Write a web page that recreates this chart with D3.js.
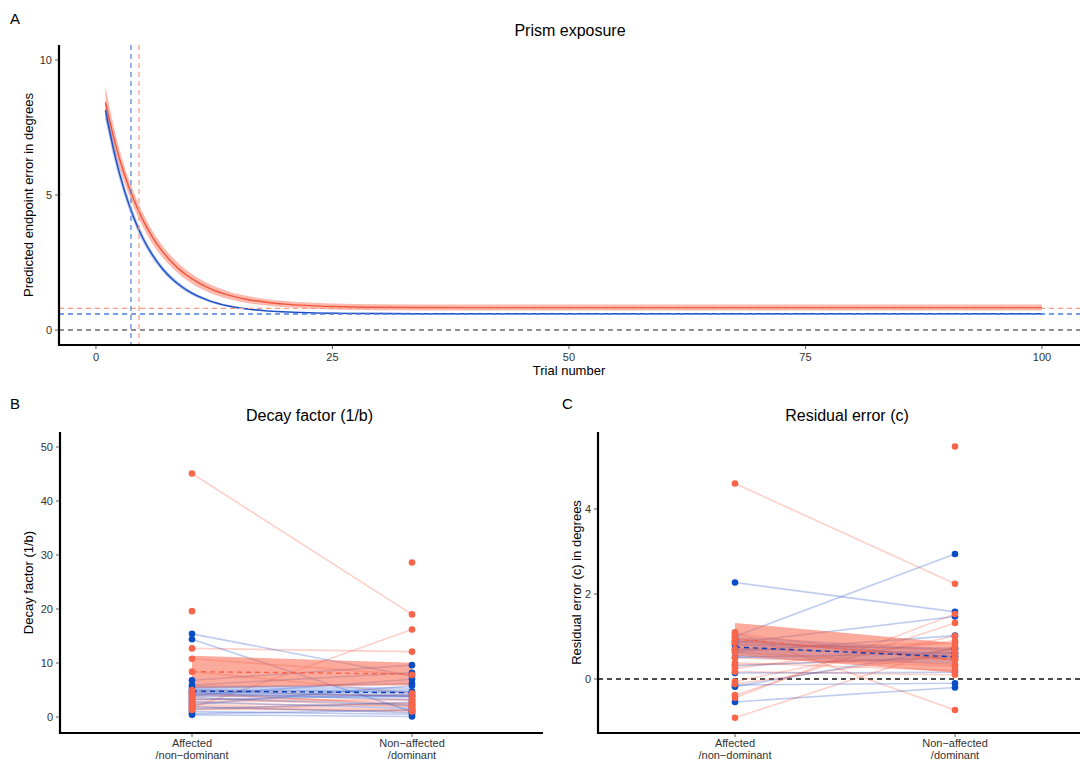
<!DOCTYPE html>
<html><head><meta charset="utf-8">
<script src="https://cdn.jsdelivr.net/npm/d3@7"></script>
<style>body{margin:0;background:#fff} text{font-family:"Liberation Sans",Arial,sans-serif}</style>
</head><body><svg id="c" width="1080" height="763"></svg>
<script>
// ---------- Panel A data ----------
const trials   = [1,2,3,4,5,6,7,8,9,10,12,14,16,18,20,25,30,40,50,60,70,80,90,100];
const redFit   = [8.43,6.96,5.77,4.82,4.05,3.42,2.92,2.52,2.19,1.93,1.54,1.29,1.13,1.03,0.96,0.87,0.84,0.83,0.83,0.83,0.83,0.83,0.83,0.83];
const redLo    = [7.83,6.56,5.47,4.54,3.79,3.18,2.70,2.32,2.00,1.75,1.38,1.15,1.00,0.91,0.85,0.76,0.73,0.72,0.72,0.72,0.72,0.72,0.72,0.72];
const redHi    = [9.03,7.36,6.07,5.10,4.31,3.66,3.14,2.72,2.38,2.11,1.70,1.43,1.26,1.15,1.07,0.98,0.95,0.94,0.94,0.94,0.94,0.94,0.94,0.94];
const blueFit  = [8.14,6.47,5.17,4.16,3.37,2.76,2.28,1.91,1.62,1.39,1.08,0.89,0.78,0.71,0.67,0.62,0.61,0.60,0.60,0.60,0.60,0.60,0.60,0.60];
const blueLo   = [7.79,6.20,4.96,3.99,3.23,2.64,2.18,1.82,1.54,1.32,1.03,0.85,0.75,0.68,0.64,0.59,0.58,0.57,0.57,0.57,0.57,0.57,0.57,0.57];
const blueHi   = [8.49,6.74,5.38,4.33,3.51,2.88,2.38,2.00,1.70,1.46,1.13,0.93,0.81,0.74,0.70,0.65,0.64,0.63,0.63,0.63,0.63,0.63,0.63,0.63];
const redDecayMean = 4.55, blueDecayMean = 3.7;
const redAsym = 0.80, blueAsym = 0.59;
const xTicksA = [0,25,50,75,100];
const yTicksA = [0,5,10];

// ---------- Panel B data (Decay factor) ----------
const groups = ["Affected\n/non\u2212dominant","Non\u2212affected\n/dominant"];
const decayRedAff  = [45.1,19.6,12.7,10.8,8.4,5.0,4.6,4.2,3.9,3.5,3.2,2.8,2.5,2.2,1.9,1.7,1.5,1.3,null];
const decayRedNon  = [19.0,null,12.1,7.8,4.4,3.8,2.1,2.4,4.1,1.9,3.3,3.1,2.0,1.4,1.0,16.2,1.2,2.6,28.6];
const decayBlueAff = [15.4,14.4,6.8,5.9,5.4,5.0,4.7,4.4,4.0,3.6,3.2,2.8,2.3,1.9,1.5,1.0,0.6,0.4];
const decayBlueNon = [7.6,1.0,9.6,8.2,6.2,4.7,3.8,3.2,7.0,2.2,4.0,1.6,5.8,0.8,2.7,0.5,1.3,0.1];
const decayRedMean = [8.4,7.96], decayRedLo = [5.4,5.9], decayRedHi = [11.35,10.05];
const decayBlueMean = [4.8,4.5], decayBlueLo = [3.7,3.5], decayBlueHi = [5.9,5.5];
const yTicksB = [0,10,20,30,40,50];

// ---------- Panel C data (Residual error) ----------
const residRedAff  = [4.6,1.1,-0.91,1.06,0.85,0.7,0.63,0.38,0.33,0.17,-0.06,-0.12,-0.38,-0.44,0.95,0.5,0.25,null];
const residRedNon  = [2.24,-0.73,0.77,0.45,0.68,0.85,0.33,0.2,0.5,0.1,1.01,0.6,1.32,1.53,0.45,0.3,0.9,5.47];
const residBlueAff = [2.27,1.0,0.85,0.8,0.64,0.51,0.31,0.14,-0.14,-0.18,-0.54,0.9,0.7];
const residBlueNon = [1.58,2.94,1.47,0.72,1.02,0.61,0.53,0.16,-0.1,0.72,-0.2,0.53,0.61];
const residRedMean = [0.94,0.45], residRedLo = [0.55,0.15], residRedHi = [1.32,0.85];
const residBlueMean = [0.75,0.52], residBlueLo = [0.5,0.35], residBlueHi = [1.0,0.7];
const yTicksC = [0,2,4];

// ---------- styles ----------
const RED = "#f8654b", BLUE = "#0a4bc6";
const RED_DASH = "#f79a86", BLUE_DASH = "#4a80e0";
const svg = d3.select("#c");

function axisLines(g, x0, x1, y0, y1){
  g.append("line").attr("x1",x0).attr("x2",x0).attr("y1",y0).attr("y2",y1+1).attr("stroke","#000").attr("stroke-width",2.2);
  g.append("line").attr("x1",x0-1).attr("x2",x1).attr("y1",y1).attr("y2",y1).attr("stroke","#000").attr("stroke-width",2.2);
}
function yAxisTicks(g, y, ticks, x0){
  ticks.forEach(t=>{
    g.append("line").attr("x1",x0-3).attr("x2",x0).attr("y1",y(t)).attr("y2",y(t)).attr("stroke","#333").attr("stroke-width",0.8);
    g.append("text").attr("x",x0-6).attr("y",y(t)).attr("dy","0.35em").attr("text-anchor","end")
      .attr("font-size",11).attr("fill","#333").text(t);
  });
}
function label(txt,x,y){ svg.append("text").attr("x",x).attr("y",y).attr("font-size",15).attr("fill","#000").text(txt); }

// ---------- Panel A ----------
(function(){
  const g = svg.append("g");
  const x = d3.scaleLinear().domain([-3.95,104.95]).range([58.6,1088.8]);
  const y = d3.scaleLinear().domain([0,10]).range([330,60]);
  const L = 59, R = 1080, T = 45, B = 345;
  label("A",10,24);
  g.append("text").attr("x",570).attr("y",36).attr("text-anchor","middle").attr("font-size",16).text("Prism exposure");
  g.append("text").attr("x",569).attr("y",375).attr("text-anchor","middle").attr("font-size",13).text("Trial number");
  g.append("text").attr("transform",`translate(33,195) rotate(-90)`).attr("text-anchor","middle").attr("font-size",13).text("Predicted endpoint error in degrees");
  const idx = d3.range(trials.length);
  const area = (lo,hi)=>d3.area().curve(d3.curveMonotoneX).x(i=>x(trials[i])).y0(i=>y(lo[i])).y1(i=>y(hi[i]));
  const line = (v)=>d3.line().curve(d3.curveMonotoneX).x(i=>x(trials[i])).y(i=>y(v[i]));
  g.append("path").attr("d",area(redLo,redHi)(idx)).attr("fill",RED).attr("opacity",0.45);
  g.append("path").attr("d",area(blueLo,blueHi)(idx)).attr("fill","#3a5fcc").attr("opacity",0.35);
  g.append("path").attr("d",line(redFit)(idx)).attr("fill","none").attr("stroke","#f2553a").attr("stroke-width",1.4);
  g.append("path").attr("d",line(blueFit)(idx)).attr("fill","none").attr("stroke","#1a4fc8").attr("stroke-width",1.4);
  // reference lines
  g.append("line").attr("x1",L).attr("x2",R).attr("y1",y(0)).attr("y2",y(0)).attr("stroke","#222").attr("stroke-width",1.2).attr("stroke-dasharray","5,4");
  g.append("line").attr("x1",L).attr("x2",R).attr("y1",y(redAsym)).attr("y2",y(redAsym)).attr("stroke",RED_DASH).attr("stroke-width",1.4).attr("stroke-dasharray","5,4");
  g.append("line").attr("x1",L).attr("x2",R).attr("y1",y(blueAsym)).attr("y2",y(blueAsym)).attr("stroke",BLUE_DASH).attr("stroke-width",1.4).attr("stroke-dasharray","5,4");
  g.append("line").attr("x1",x(blueDecayMean)).attr("x2",x(blueDecayMean)).attr("y1",T).attr("y2",B).attr("stroke",BLUE_DASH).attr("stroke-width",1.2).attr("stroke-dasharray","5,4");
  g.append("line").attr("x1",x(redDecayMean)).attr("x2",x(redDecayMean)).attr("y1",T).attr("y2",B).attr("stroke",RED_DASH).attr("stroke-width",1.2).attr("stroke-dasharray","5,4");
  axisLines(g,L,R,T,B);
  yAxisTicks(g,y,yTicksA,L-1);
  xTicksA.forEach(t=>{
    g.append("line").attr("x1",x(t)).attr("x2",x(t)).attr("y1",B+1).attr("y2",B+4).attr("stroke","#333").attr("stroke-width",0.8);
    g.append("text").attr("x",x(t)).attr("y",B+16).attr("text-anchor","middle").attr("font-size",11).attr("fill","#333").text(t);
  });
})();

// ---------- Paired panels ----------
function pairedPanel(opt){
  const g = svg.append("g");
  const {L,R,T,B} = opt;
  const x = d3.scalePoint().domain(groups).range([opt.cx[0],opt.cx[1]]);
  const y = d3.scaleLinear().domain(opt.yDom).range(opt.yRange);
  label(opt.letter,opt.lx,409);
  g.append("text").attr("x",(L+R)/2+8).attr("y",421).attr("text-anchor","middle").attr("font-size",16).text(opt.title);
  g.append("text").attr("transform",`translate(${opt.ylx},${(T+B)/2}) rotate(-90)`).attr("text-anchor","middle").attr("font-size",13).text(opt.ylab);
  if(opt.zero){
    g.append("line").attr("x1",L).attr("x2",R).attr("y1",y(0)).attr("y2",y(0)).attr("stroke","#111").attr("stroke-width",1.3).attr("stroke-dasharray","5,4");
  }
  const pairs = (a,b)=>a.map((v,i)=>[v,b[i]]);
  const drawLines=(a,b,col)=>{
    pairs(a,b).filter(p=>p[0]!=null&&p[1]!=null).forEach(p=>{
      g.append("line").attr("x1",x(groups[0])).attr("x2",x(groups[1])).attr("y1",y(p[0])).attr("y2",y(p[1]))
        .attr("stroke",col).attr("stroke-width",1.6).attr("stroke-opacity",0.3);
    });
  };
  drawLines(opt.redAff,opt.redNon,RED);
  drawLines(opt.blueAff,opt.blueNon,"#2a55c8");
  const band=(lo,hi,col,op)=>{
    const a = d3.area().x((d,i)=>x(groups[i])).y0((d,i)=>y(lo[i])).y1((d,i)=>y(hi[i]));
    g.append("path").attr("d",a([0,1])).attr("fill",col).attr("opacity",op);
  };
  band(opt.blueLo,opt.blueHi,"#3a6ad8",0.3);
  band(opt.redLo,opt.redHi,RED,0.55);
  const mean=(m,col)=>{
    g.append("line").attr("x1",x(groups[0])).attr("x2",x(groups[1])).attr("y1",y(m[0])).attr("y2",y(m[1]))
      .attr("stroke",col).attr("stroke-width",1.4).attr("stroke-dasharray","5,4");
  };
  mean(opt.redMean,RED);
  mean(opt.blueMean,"#0a3fb8");
  const pts=(arr,gi,col)=>arr.forEach(v=>{ if(v!=null) g.append("circle").attr("cx",x(groups[gi])).attr("cy",y(v)).attr("r",3.3).attr("fill",col); });
  pts(opt.blueAff,0,BLUE); pts(opt.blueNon,1,BLUE);
  pts(opt.redAff,0,RED); pts(opt.redNon,1,RED);
  axisLines(g,L,R,T,B);
  yAxisTicks(g,y,opt.yTicks,L-1);
  groups.forEach(gr=>{
    g.append("line").attr("x1",x(gr)).attr("x2",x(gr)).attr("y1",B+1).attr("y2",B+4).attr("stroke","#333").attr("stroke-width",0.8);
    const t = g.append("text").attr("x",x(gr)).attr("y",B+14).attr("text-anchor","middle").attr("font-size",11).attr("fill","#333");
    gr.split("\n").forEach((s,k)=>t.append("tspan").attr("x",x(gr)).attr("dy",k?"1.05em":0).text(s));
  });
}

pairedPanel({letter:"B",lx:10,L:60,R:543,T:432,B:733,cx:[192,412],yDom:[0,50],yRange:[717,447],
  title:"Decay factor (1/b)",ylab:"Decay factor (1/b)",ylx:33,zero:false,yTicks:yTicksB,
  redAff:decayRedAff,redNon:decayRedNon,blueAff:decayBlueAff,blueNon:decayBlueNon,
  redMean:decayRedMean,redLo:decayRedLo,redHi:decayRedHi,blueMean:decayBlueMean,blueLo:decayBlueLo,blueHi:decayBlueHi});

pairedPanel({letter:"C",lx:562,L:598,R:1080,T:432,B:733,cx:[735,955],yDom:[0,4],yRange:[679,509],
  title:"Residual error (c)",ylab:"Residual error (c) in degrees",ylx:581,zero:true,yTicks:yTicksC,
  redAff:residRedAff,redNon:residRedNon,blueAff:residBlueAff,blueNon:residBlueNon,
  redMean:residRedMean,redLo:residRedLo,redHi:residRedHi,blueMean:residBlueMean,blueLo:residBlueLo,blueHi:residBlueHi});
</script></body></html>
